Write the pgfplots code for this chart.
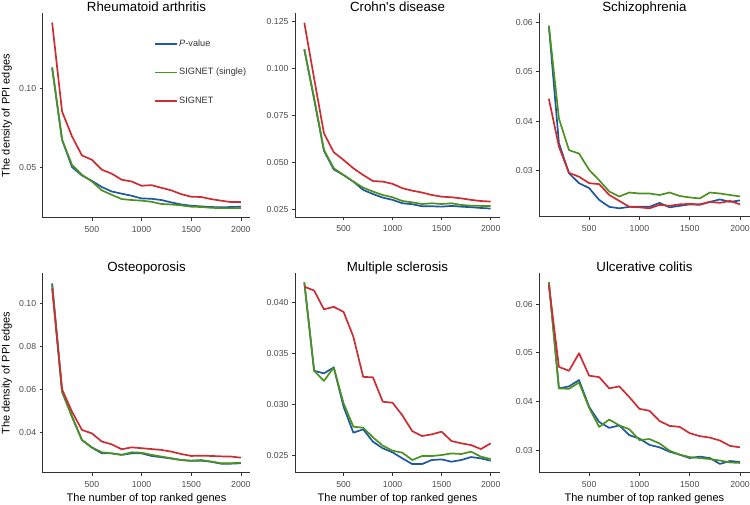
\documentclass[border=0pt]{standalone}
\usepackage{fontspec}
\setmainfont{Liberation Sans}
\usepackage{pgfplots}
\usepackage{pgfplotstable}
\pgfplotsset{compat=1.18}

\definecolor{cBlue}{RGB}{30,88,160}
\definecolor{cGreen}{RGB}{77,146,33}
\definecolor{cRed}{RGB}{205,45,50}

\pgfplotstableread{
n pv single signet
100 0.1130 0.1130 0.1414
200 0.0675 0.0675 0.0853
300 0.0503 0.0517 0.0696
400 0.0450 0.0454 0.0576
500 0.0416 0.0412 0.0549
600 0.0377 0.0356 0.0486
700 0.0349 0.0328 0.0461
800 0.0335 0.0301 0.0423
900 0.0322 0.0295 0.0412
1000 0.0305 0.0291 0.0385
1100 0.0303 0.0284 0.0389
1200 0.0295 0.0270 0.0372
1300 0.0280 0.0267 0.0356
1400 0.0267 0.0261 0.0332
1500 0.0259 0.0253 0.0316
1600 0.0255 0.0251 0.0314
1700 0.0251 0.0246 0.0301
1800 0.0249 0.0244 0.0291
1900 0.0251 0.0244 0.0282
2000 0.0253 0.0244 0.0282
}\tRA

\pgfplotstableread{
n pv single signet
100 0.1100 0.1100 0.1241
200 0.0835 0.0840 0.0945
300 0.0561 0.0565 0.0654
400 0.0462 0.0468 0.0553
500 0.0432 0.0432 0.0512
600 0.0397 0.0397 0.0468
700 0.0353 0.0365 0.0432
800 0.0331 0.0344 0.0400
900 0.0312 0.0326 0.0397
1000 0.0300 0.0314 0.0385
1100 0.0282 0.0294 0.0362
1200 0.0277 0.0287 0.0349
1300 0.0266 0.0278 0.0339
1400 0.0266 0.0282 0.0326
1500 0.0264 0.0278 0.0317
1600 0.0268 0.0282 0.0314
1700 0.0264 0.0273 0.0308
1800 0.0261 0.0269 0.0300
1900 0.0257 0.0268 0.0294
2000 0.0254 0.0268 0.0291
}\tCD

\pgfplotstableread{
n pv single signet
100 0.0593 0.0593 0.0445
200 0.0355 0.0405 0.0348
300 0.0294 0.0341 0.0295
400 0.0274 0.0334 0.0287
500 0.0264 0.0301 0.0274
600 0.0240 0.0280 0.0272
700 0.0226 0.0257 0.0250
800 0.0223 0.0247 0.0238
900 0.0226 0.0255 0.0226
1000 0.0226 0.0253 0.0225
1100 0.0226 0.0253 0.0223
1200 0.0234 0.0250 0.0230
1300 0.0225 0.0255 0.0228
1400 0.0228 0.0248 0.0231
1500 0.0231 0.0245 0.0232
1600 0.0230 0.0243 0.0231
1700 0.0236 0.0255 0.0236
1800 0.0241 0.0253 0.0234
1900 0.0236 0.0250 0.0238
2000 0.0239 0.0247 0.0231
}\tSZ

\pgfplotstableread{
n pv single signet
100 0.1093 0.1085 0.1070
200 0.0589 0.0589 0.0600
300 0.0473 0.0473 0.0496
400 0.0364 0.0364 0.0411
500 0.0329 0.0330 0.0395
600 0.0302 0.0307 0.0357
700 0.0302 0.0302 0.0344
800 0.0295 0.0295 0.0321
900 0.0302 0.0307 0.0330
1000 0.0302 0.0305 0.0326
1100 0.0290 0.0295 0.0322
1200 0.0284 0.0287 0.0318
1300 0.0278 0.0279 0.0310
1400 0.0271 0.0271 0.0299
1500 0.0267 0.0268 0.0290
1600 0.0268 0.0271 0.0291
1700 0.0263 0.0264 0.0290
1800 0.0254 0.0256 0.0288
1900 0.0254 0.0256 0.0287
2000 0.0256 0.0259 0.0282
}\tOP

\pgfplotstableread{
n pv single signet
100 0.04200 0.04200 0.04158
200 0.03330 0.03330 0.04120
300 0.03304 0.03230 0.03935
400 0.03363 0.03363 0.03960
500 0.02976 0.03010 0.03910
600 0.02720 0.02779 0.03665
700 0.02753 0.02769 0.03270
800 0.02631 0.02674 0.03265
900 0.02566 0.02592 0.03025
1000 0.02526 0.02543 0.03015
1100 0.02467 0.02523 0.02890
1200 0.02411 0.02451 0.02736
1300 0.02411 0.02490 0.02687
1400 0.02451 0.02490 0.02704
1500 0.02457 0.02500 0.02730
1600 0.02434 0.02516 0.02638
1700 0.02451 0.02510 0.02615
1800 0.02480 0.02533 0.02598
1900 0.02467 0.02484 0.02559
2000 0.02444 0.02460 0.02615
}\tMS

\pgfplotstableread{
n pv single signet
100 0.0645 0.0645 0.0639
200 0.0427 0.0427 0.0471
300 0.0431 0.0426 0.0463
400 0.0444 0.0439 0.0499
500 0.0389 0.0387 0.0453
600 0.0358 0.0348 0.0450
700 0.0346 0.0363 0.0427
800 0.0351 0.0351 0.0431
900 0.0331 0.0343 0.0409
1000 0.0324 0.0321 0.0385
1100 0.0311 0.0323 0.0381
1200 0.0306 0.0314 0.0360
1300 0.0297 0.0299 0.0350
1400 0.0291 0.0291 0.0348
1500 0.0284 0.0286 0.0335
1600 0.0287 0.0284 0.0329
1700 0.0284 0.0282 0.0326
1800 0.0272 0.0279 0.0320
1900 0.0278 0.0275 0.0309
2000 0.0276 0.0274 0.0306
}\tUC

\pgfplotsset{
  panel/.style={
    scale only axis, anchor=south west,
    axis x line*=bottom, axis y line*=left,
    axis line style={black!80, line width=0.6pt, -},
    tick align=outside, major tick length=3pt,
    tick style={black!80, line width=0.6pt},
    xmin=5, xmax=2095, xtick={500,1000,1500,2000},
    scaled y ticks=false, scaled x ticks=false,
    /pgf/number format/assume math mode=true,
    ticklabel style={font=\fontsize{8.7}{10}\selectfont, text=black!70},
    xticklabel style={/pgf/number format/1000 sep={}, yshift=-2pt},
    title style={font=\fontsize{13.3}{15}\selectfont, anchor=base, at={(0.5,1)}, yshift=-4pt},
    every axis x label/.style={at={([yshift=-28.5pt]rel axis cs:0.5,0)}, anchor=base, font=\fontsize{11}{13}\selectfont},
    every axis y label/.style={at={([xshift=-33pt]rel axis cs:0,0.5)}, anchor=base, rotate=90, font=\fontsize{11}{13}\selectfont},
    every axis plot/.append style={line width=1.7pt, line join=round},
    no markers,
  },
  p2/.style={yticklabel style={/pgf/number format/.cd, fixed, fixed zerofill, precision=2}},
  p3/.style={yticklabel style={/pgf/number format/.cd, fixed, fixed zerofill, precision=3}},
}

\newcommand{\threeplots}[1]{%
  \addplot[cBlue] table[x=n, y=pv] {#1};
  \addplot[cGreen] table[x=n, y=single] {#1};
  \addplot[cRed] table[x=n, y=signet] {#1};
}

\begin{document}
\begin{tikzpicture}
\path[use as bounding box] (0,0) rectangle (750pt,505pt);

% Row 1
\begin{axis}[panel, p2, at={(42.7pt,287.2pt)}, width=207.6pt, height=204.3pt,
  ymin=0.0183, ymax=0.1471, ytick={0.05,0.10},
  title={Rheumatoid arthritis}, ylabel={The density of PPI edges},
  legend style={at={(0.5376,0.878)}, anchor=north west, draw=none, fill=none,
    inner sep=0pt, row sep=18.5pt, font=\fontsize{9.2}{10}\selectfont,
    nodes={inner sep=1pt, text=black!80},
    /tikz/every even column/.style={column sep=6pt}},
  legend cell align=left,
  legend image code/.code={\draw[#1, line width=1.7pt] (0pt,0pt) -- (22pt,0pt);},
]
\threeplots{\tRA}
\legend{\textit{P}-value, SIGNET (single), SIGNET}
\end{axis}

\begin{axis}[panel, p3, at={(295pt,287.7pt)}, width=205pt, height=204pt,
  ymin=0.02075, ymax=0.1291, ytick={0.025,0.05,0.075,0.1,0.125},
  title={Crohn\textquotesingle s disease}]
\threeplots{\tCD}
\end{axis}

\begin{axis}[panel, p2, at={(539.3pt,288.3pt)}, width=210.3pt, height=203.2pt,
  ymin=0.0206, ymax=0.0618, ytick={0.03,0.04,0.05,0.06},
  title={Schizophrenia}]
\threeplots{\tSZ}
\end{axis}

% Row 2
\begin{axis}[panel, p2, at={(42.7pt,32.3pt)}, width=207.6pt, height=199.4pt,
  ymin=0.0212, ymax=0.1140, ytick={0.04,0.06,0.08,0.10},
  title={Osteoporosis}, ylabel={The density of PPI edges},
  xlabel={The number of top ranked genes}]
\threeplots{\tOP}
\end{axis}

\begin{axis}[panel, p3, at={(295pt,32.3pt)}, width=205pt, height=199.4pt,
  ymin=0.02326, ymax=0.0429, ytick={0.025,0.030,0.035,0.040},
  title={Multiple sclerosis}, xlabel={The number of top ranked genes}]
\threeplots{\tMS}
\end{axis}

\begin{axis}[panel, p2, at={(539.3pt,32.3pt)}, width=210.3pt, height=199.4pt,
  ymin=0.0254, ymax=0.0663, ytick={0.03,0.04,0.05,0.06},
  title={Ulcerative colitis}, xlabel={The number of top ranked genes}]
\threeplots{\tUC}
\end{axis}
\end{tikzpicture}
\end{document}
